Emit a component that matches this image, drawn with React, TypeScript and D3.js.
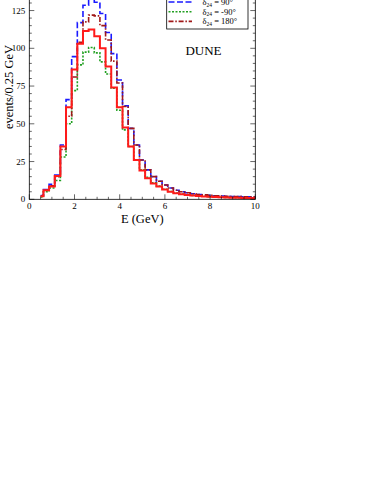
import React from 'react';
import * as d3 from 'd3';

// bin centres (GeV)
const energies = [
  0.5, 0.75, 1.0, 1.25, 1.5, 1.75, 2.0, 2.25, 2.5, 2.75,
  3.0, 3.25, 3.5, 3.75, 4.0, 4.25, 4.5, 4.75, 5.0, 5.25,
  5.5, 5.75, 6.0, 6.25, 6.5, 6.75, 7.0, 7.25, 7.5, 7.75,
  8.0, 8.25, 8.5, 8.75, 9.0, 9.25, 9.5, 9.75, 10.0,
];

const delta0 = [
  2, 6, 8.5, 15.5, 35, 61, 86, 103, 111.5, 112.5,
  108, 100, 88, 74, 61, 47.5, 35, 26, 19, 14,
  10.5, 8.5, 6.5, 5, 4, 3.4, 2.9, 2.5, 2.2, 1.9,
  1.7, 1.5, 1.3, 1.2, 1.1, 1.0, 0.9, 0.8, 0.7,
];

const delta90 = [
  2.5, 6.5, 10, 16, 36, 66, 94.5, 117, 128.5, 134,
  130.5, 123, 110.5, 96.5, 79, 62, 47, 36, 26, 19.5,
  15, 12, 9.5, 7.5, 6, 5, 4.3, 3.7, 3.2, 2.9,
  2.6, 2.4, 2.2, 2.0, 1.9, 1.8, 1.7, 1.6, 1.5,
];

const deltaM90 = [
  1.5, 5, 7.5, 12.5, 28, 50, 72, 89, 97.5, 100.5,
  97, 91, 83, 73.5, 59, 46, 35, 26, 19.5, 14.5,
  11, 8.7, 6.7, 5.2, 4.2, 3.5, 3.0, 2.6, 2.3, 2.0,
  1.8, 1.6, 1.4, 1.3, 1.2, 1.1, 1.0, 0.9, 0.8,
];

const delta180 = [
  2, 6, 9, 15, 33, 55, 81, 104, 117.5, 122,
  121.5, 115, 105.5, 91.5, 77, 61.5, 47, 36, 26, 19.5,
  15, 12, 9.5, 7.5, 6, 5, 4.3, 3.7, 3.2, 2.9,
  2.6, 2.4, 2.2, 2.0, 1.9, 1.8, 1.7, 1.6, 1.5,
];

// visible legend rows (the row above them is cropped off the top)
const legendLabels = ['90°', '-90°', '180°'];
const xTicks = [0, 2, 4, 6, 8, 10];
const yTicks = [0, 25, 50, 75, 100, 125];

const width = 374;
const height = 484;
const left = 29.3;
const right = 255.3;
const bottom = 199.3;
const top = bottom - 150 * 1.51;

const serif = '"Liberation Serif", "Times New Roman", serif';

export default function App() {
  const x = d3.scaleLinear().domain([0, 10]).range([left, right]);
  const y = d3.scaleLinear().domain([0, 150]).range([bottom, top]);

  const line = d3.line<number>()
    .x((_, i) => x(energies[i]))
    .y(d => y(d))
    .curve(d3.curveStep);

  const series = [
    { values: delta90, color: '#1a1aff', width: 1.6, dash: '6,2.5' },
    { values: deltaM90, color: '#22a022', width: 1.6, dash: '2,1.5' },
    { values: delta180, color: '#a01818', width: 1.6, dash: '5,1.8,1.5,1.8' },
    { values: delta0, color: '#ff1a1a', width: 2, dash: null },
  ];
  const legendOrder = [0, 1, 2];

  const xMinor = d3.range(0, 10.01, 0.5);
  const yMinor = d3.range(0, 150.01, 5);

  const legX = 166.7;
  const legY0 = 2;
  const legStep = 9.7;

  return (
    <svg width={width} height={height} style={{ position: 'absolute', left: 0, top: 0, background: '#fff' }}>
      {/* histograms */}
      <g fill="none">
        {series.map((s, i) => (
          <path key={i} d={line(s.values) || ''} stroke={s.color} strokeWidth={s.width}
            strokeDasharray={s.dash || undefined} />
        ))}
      </g>

      {/* frame */}
      <rect x={left} y={top} width={right - left} height={bottom - top} fill="none" stroke="#000" strokeWidth={0.8} />

      {/* ticks */}
      <g stroke="#000" strokeWidth={0.6}>
        {xMinor.map(v => {
          const major = v % 2 === 0;
          const len = major ? 5 : 2.5;
          return (
            <g key={'x' + v}>
              <line x1={x(v)} x2={x(v)} y1={bottom} y2={bottom - len} />
              <line x1={x(v)} x2={x(v)} y1={top} y2={top + len} />
            </g>
          );
        })}
        {yMinor.map(v => {
          const major = v % 25 === 0;
          const len = major ? 5 : 2.5;
          return (
            <g key={'y' + v}>
              <line x1={left} x2={left + len} y1={y(v)} y2={y(v)} />
              <line x1={right} x2={right - len} y1={y(v)} y2={y(v)} />
            </g>
          );
        })}
      </g>

      {/* tick labels */}
      <g fontFamily={serif} fontSize={9} fill="#000">
        {xTicks.map(v => (
          <text key={v} x={x(v)} y={bottom + 10} textAnchor="middle">{v}</text>
        ))}
        {yTicks.map(v => (
          <text key={v} x={left - 4} y={y(v) + 3} textAnchor="end">{v}</text>
        ))}
      </g>

      {/* axis titles */}
      <text x={(left + right) / 2} y={223} textAnchor="middle" fontFamily={serif} fontSize={12.5}>E (GeV)</text>
      <text transform={`translate(12.5,${87}) rotate(-90)`} textAnchor="middle" fontFamily={serif} fontSize={12.5}>
        events/0.25 GeV
      </text>

      <text x={203.5} y={55} textAnchor="middle" fontFamily={serif} fontSize={13}>DUNE</text>

      {/* legend */}
      <rect x={legX} y={-30} width={248 - legX} height={59} fill="#fff" stroke="#000" strokeWidth={0.8} />
      <line x1={168.5} x2={192} y1={legY0 - legStep} y2={legY0 - legStep} stroke={series[3].color} strokeWidth={2} />
      {legendOrder.map((si, k) => {
        const s = series[si];
        const ly = legY0 + k * legStep;
        return (
          <g key={k}>
            <line x1={168.5} x2={192} y1={ly} y2={ly} stroke={s.color} strokeWidth={s.width}
              strokeDasharray={s.dash || undefined} />
            <text x={202.5} y={ly + 3} fontFamily={serif} fontSize={8.5}>
              δ<tspan fontSize={5.5} dy={1.5}>24</tspan>
              <tspan dy={-1.5}> = {legendLabels[k]}</tspan>
            </text>
          </g>
        );
      })}
    </svg>
  );
}
